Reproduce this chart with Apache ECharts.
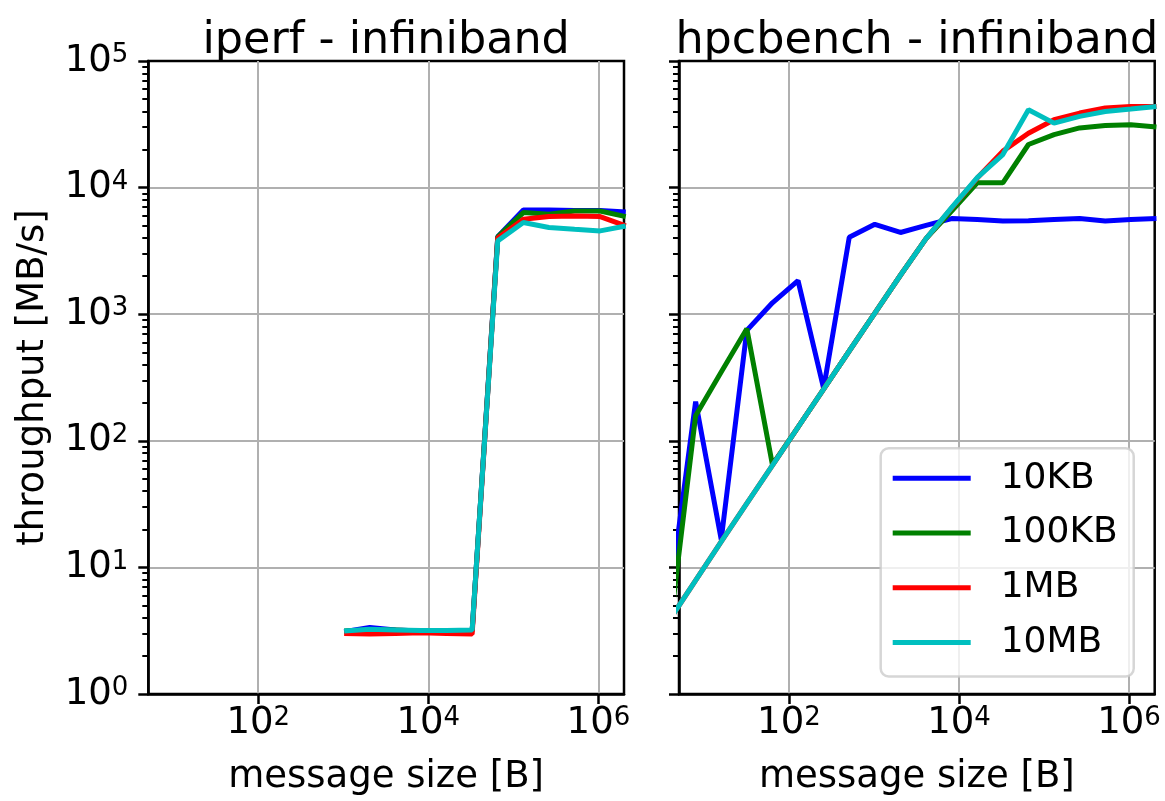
<!DOCTYPE html>
<html>
<head>
<meta charset="utf-8">
<title>iperf / hpcbench - infiniband</title>
<script src="https://cdn.jsdelivr.net/npm/echarts@6/dist/echarts.min.js"></script>
<style>
  html, body { margin: 0; padding: 0; background: #fff; }
  #chart { width: 1165px; height: 801px; }
</style>
</head>
<body>
<div id="chart"></div>
<script>
// message sizes [B]
const iperfSizes = [1024, 2048, 4096, 8192, 16384, 32768, 65536, 131072, 262144, 524288, 1048576, 2097152];
const hpcSizes = [4, 8, 16, 32, 64, 128, 256, 512, 1024, 2048, 4096, 8192, 16384, 32768, 65536, 131072, 262144, 524288, 1048576, 2097152];

// throughput [MB/s], iperf
const iperf10KB  = [3.1, 3.35, 3.2, 3.15, 3.15, 3.15, 4100, 6650, 6650, 6600, 6600, 6420];
const iperf100KB = [3.15, 3.2, 3.2, 3.15, 3.15, 3.15, 4080, 6350, 6150, 6530, 6530, 5900];
const iperf1MB   = [3.0, 2.98, 3.0, 3.05, 3.0, 2.98, 3990, 5620, 5900, 5970, 5900, 4980];
const iperf10MB  = [3.15, 3.25, 3.2, 3.18, 3.18, 3.2, 3795, 5300, 4840, 4690, 4550, 4980];

// throughput [MB/s], hpcbench
const hpc10KB  = [6.1, 204, 16.6, 745, 1230, 1840, 259, 4050, 5130, 4420, 5030, 5690, 5600, 5450, 5480, 5600, 5690, 5450, 5600, 5690];
const hpc100KB = [3.35, 158, 350, 768, 64.7, 128, 256, 512, 1020, 2030, 3950, 6530, 10900, 10900, 21900, 26200, 29600, 31000, 31400, 30100];
const hpc1MB   = [3.9, 7.9, 16, 32, 64, 128, 256, 512, 1020, 2030, 3950, 6900, 11900, 19400, 26900, 34400, 38800, 42500, 43700, 43700];
const hpc10MB  = [3.9, 7.9, 16, 32, 64, 128, 256, 512, 1020, 2030, 3950, 6950, 11970, 18240, 41200, 32300, 36500, 39900, 41700, 43700];

const seriesNames = ['10KB', '100KB', '1MB', '10MB'];
const seriesColors = ['#0000ff', '#008000', '#ff0000', '#00bfbf'];
const panelTitles = ['iperf - infiniband', 'hpcbench - infiniband'];

// axis ticks
const xMajorTicks = [1e2, 1e4, 1e6];
const minorMult = [2, 3, 4, 5, 6, 7, 8, 9];
const decades = [1, 10, 100, 1000, 10000];
const yMinorTicks = decades.flatMap(d => minorMult.map(m => m * d));

const font = 'DejaVu Sans';
const grids = [
  { left: 148.3, top: 61, width: 475.7, height: 636.3 },
  { left: 679, top: 61, width: 475.7, height: 636.3 },
];

const powLabel = supLineHeight => ({
  color: '#000', fontFamily: font,
  formatter: v => '{b|10}{s|' + Math.round(Math.log10(v)) + '}',
  rich: {
    b: { fontSize: 37, lineHeight: 37, fontFamily: font, color: '#000' },
    s: { fontSize: 26, lineHeight: supLineHeight, verticalAlign: 'top', fontFamily: font, color: '#000' },
  },
});

const xAxis = gi => ({
  type: 'log', gridIndex: gi, min: 5.1, max: 2.0e6,
  name: 'message size [B]', nameLocation: 'middle', nameGap: 65,
  nameTextStyle: { fontSize: 37, fontFamily: font, color: '#000' },
  axisLine: { show: true, onZero: false, lineStyle: { color: '#000', width: 2.5 } },
  axisTick: { show: true, customValues: xMajorTicks, length: 10, lineStyle: { color: '#000', width: 2.5 } },
  axisLabel: { ...powLabel(12), customValues: xMajorTicks, margin: 11 },
  splitLine: { show: true, lineStyle: { color: '#b0b0b0', width: 2 } },
  minorTick: { show: false }, minorSplitLine: { show: false },
});

const yMain = (gi, labels) => ({
  type: 'log', gridIndex: gi, position: 'left', min: 1, max: 1e5,
  name: labels ? 'throughput [MB/s]' : '', nameLocation: 'middle', nameGap: 96, nameRotate: 90,
  nameTextStyle: { fontSize: 37, fontFamily: font, color: '#000' },
  axisLine: { show: true, onZero: false, lineStyle: { color: '#000', width: 2.5 } },
  axisTick: { show: true, length: 10, lineStyle: { color: '#000', width: 2.5 } },
  axisLabel: { ...powLabel(2), show: labels, margin: 20 },
  splitLine: { show: true, showMinLine: false, showMaxLine: false, lineStyle: { color: '#b0b0b0', width: 2 } },
});

const yMinor = gi => ({
  type: 'log', gridIndex: gi, position: 'left', offset: 0, min: 1, max: 1e5,
  axisLine: { show: false, onZero: false },
  axisTick: { show: true, customValues: yMinorTicks, length: 6, lineStyle: { color: '#000', width: 2 } },
  axisLabel: { show: false },
  splitLine: { show: false },
});

const panels = [
  { sizes: iperfSizes, values: [iperf10KB, iperf100KB, iperf1MB, iperf10MB] },
  { sizes: hpcSizes, values: [hpc10KB, hpc100KB, hpc1MB, hpc10MB] },
];

const series = [];
panels.forEach((p, pi) => {
  p.values.forEach((vals, k) => {
    series.push({
      type: 'line', name: seriesNames[k], xAxisIndex: pi, yAxisIndex: pi * 2,
      data: p.sizes.map((s, i) => [s, vals[i]]),
      showSymbol: false, symbol: 'none', clip: true, z: 3 + k,
      lineStyle: { width: 5, color: seriesColors[k] },
      itemStyle: { color: seriesColors[k] },
      emphasis: { disabled: true },
    });
  });
});

const chart = echarts.init(document.getElementById('chart'), null, { renderer: 'canvas' });
chart.setOption({
  animation: false,
  backgroundColor: '#fff',
  title: panelTitles.map((t, i) => ({
    text: t, left: grids[i].left + grids[i].width / 2, top: 19, textAlign: 'center', padding: 0,
    textStyle: { fontSize: 44.5, fontWeight: 'normal', fontFamily: font, color: '#000' },
  })),
  grid: grids.map(g => ({ ...g, show: true, borderColor: '#000', borderWidth: 2.5, backgroundColor: 'transparent' })),
  xAxis: [xAxis(0), xAxis(1)],
  yAxis: [yMain(0, true), yMinor(0), yMain(1, false), yMinor(1)],
  legend: {
    data: seriesNames, orient: 'vertical', left: 880.7, top: 448.3,
    icon: 'rect', itemWidth: 78, itemHeight: 5, itemGap: 18.7,
    padding: [12, 16, 16, 12], selectedMode: false,
    backgroundColor: 'rgba(255,255,255,0.8)', borderColor: 'rgba(204,204,204,0.8)',
    borderWidth: 2.5, borderRadius: 8,
    textStyle: { fontSize: 36, fontFamily: font, color: '#000', padding: [0, 0, 0, 25] },
  },
  series,
});
</script>
</body>
</html>
